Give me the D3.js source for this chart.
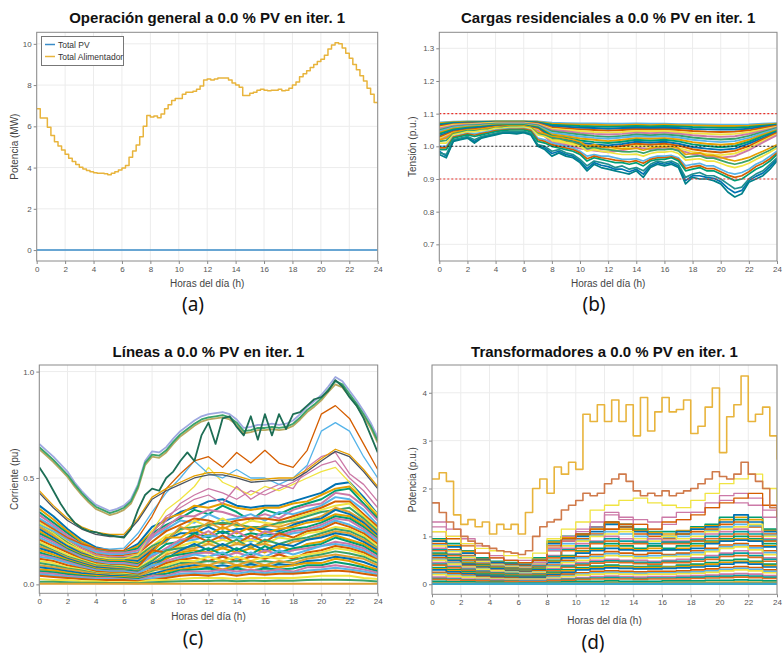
<!DOCTYPE html>
<meta charset="utf-8">
<style>
body { margin: 0; background: #fff; }
text { font-family: "Liberation Sans", Arial, sans-serif; }
.tick text { font-size: 8px; fill: #555; }
.tick line { stroke: #888; }
.grid line { stroke: #ececec; stroke-width: 1; }
.title { font-size: 15px; font-weight: bold; fill: #111; }
.alabel { font-size: 10px; fill: #444; }
.sub { font-family: "Noto Sans", "Open Sans", sans-serif; font-size: 19px; fill: #111; }
.legend text { font-size: 8.5px; fill: #333; }
</style>
<body>
<script src="https://d3js.org/d3.v7.min.js"></script>
<script>

// ---- shared axes ----
var ticksHoras = [0, 2, 4, 6, 8, 10, 12, 14, 16, 18, 20, 22, 24];
var ticksA = [0, 2, 4, 6, 8, 10];
var ticksB = [0.7, 0.8, 0.9, 1.0, 1.1, 1.2, 1.3];
var ticksC = [0.0, 0.5, 1.0];
var ticksD = [0, 1, 2, 3, 4];

// ---- (a) feeder totals, 15 min steps (last value = 24 h) ----
var totalPV = [0, 0];
var totalAlimentador = [
  6.85, 6.40, 6.40, 5.95, 5.55, 5.25, 5.05, 4.85, 4.65, 4.45, 4.30, 4.15,
  4.02, 3.93, 3.86, 3.80, 3.75, 3.72, 3.72, 3.70, 3.65, 3.72, 3.80, 3.88,
  3.98, 4.10, 4.50, 4.80, 5.10, 5.50, 6.00, 6.52, 6.45, 6.50, 6.42, 6.60,
  6.85, 7.05, 7.25, 7.35, 7.35, 7.55, 7.65, 7.65, 7.70, 7.80, 7.95, 8.25,
  8.30, 8.25, 8.30, 8.35, 8.35, 8.35, 8.25, 8.10, 8.00, 7.90, 7.50, 7.50,
  7.60, 7.65, 7.75, 7.80, 7.75, 7.72, 7.75, 7.75, 7.80, 7.72, 7.75, 7.85,
  8.00, 8.15, 8.40, 8.55, 8.70, 8.85, 9.00, 9.15, 9.25, 9.45, 9.75, 9.95,
  10.05, 10.00, 9.80, 9.55, 9.30, 9.00, 8.75, 8.45, 8.20, 7.85, 7.55, 7.15, 7.10
];

// ---- (b) residential voltages (p.u.) ----
var limitesTension = [0.9, 1.0, 1.1];
var tensionesHora = [
  [1.073,1.075,1.076,1.076,1.077,1.077,1.077,1.076,1.072,1.071,1.070,1.070,1.069,1.069,1.070,1.069,1.069,1.068,1.068,1.067,1.066,1.066,1.067,1.069,1.071],
  [1.071,1.074,1.075,1.075,1.076,1.076,1.076,1.075,1.069,1.068,1.066,1.066,1.065,1.065,1.066,1.065,1.066,1.065,1.064,1.063,1.062,1.062,1.063,1.066,1.069],
  [1.068,1.072,1.073,1.074,1.075,1.075,1.075,1.073,1.066,1.064,1.062,1.061,1.060,1.061,1.062,1.061,1.062,1.061,1.059,1.058,1.057,1.057,1.059,1.063,1.067],
  [1.065,1.070,1.072,1.073,1.074,1.074,1.074,1.072,1.062,1.060,1.057,1.056,1.054,1.056,1.057,1.056,1.057,1.056,1.053,1.052,1.051,1.051,1.054,1.060,1.065],
  [1.062,1.068,1.070,1.071,1.073,1.073,1.073,1.070,1.058,1.055,1.052,1.050,1.048,1.050,1.052,1.051,1.052,1.050,1.047,1.045,1.044,1.045,1.049,1.056,1.063],
  [1.058,1.066,1.068,1.070,1.072,1.072,1.072,1.068,1.054,1.050,1.047,1.044,1.042,1.044,1.047,1.046,1.047,1.044,1.040,1.038,1.036,1.038,1.043,1.052,1.060],
  [1.055,1.063,1.066,1.068,1.070,1.071,1.071,1.066,1.050,1.046,1.041,1.038,1.036,1.038,1.042,1.040,1.042,1.039,1.034,1.031,1.029,1.031,1.038,1.048,1.058],
  [1.050,1.060,1.064,1.066,1.069,1.069,1.069,1.064,1.046,1.041,1.036,1.032,1.029,1.032,1.036,1.034,1.036,1.033,1.027,1.023,1.021,1.023,1.032,1.044,1.056],
  [1.046,1.058,1.062,1.064,1.067,1.068,1.068,1.062,1.041,1.036,1.030,1.026,1.023,1.027,1.031,1.029,1.031,1.027,1.020,1.016,1.013,1.016,1.026,1.040,1.053],
  [1.042,1.055,1.060,1.062,1.066,1.066,1.066,1.060,1.036,1.031,1.024,1.020,1.016,1.020,1.025,1.023,1.025,1.021,1.013,1.008,1.005,1.008,1.020,1.036,1.050],
  [1.038,1.052,1.057,1.060,1.064,1.065,1.065,1.058,1.032,1.026,1.018,1.013,1.010,1.014,1.020,1.017,1.020,1.015,1.006,1.001,0.997,1.001,1.014,1.031,1.047],
  [1.033,1.048,1.054,1.058,1.062,1.063,1.063,1.055,1.027,1.020,1.011,1.006,1.003,1.007,1.014,1.011,1.014,1.008,0.998,0.993,0.989,0.993,1.008,1.026,1.044],
  [1.028,1.045,1.051,1.055,1.060,1.062,1.062,1.053,1.022,1.015,1.005,1.000,0.996,1.001,1.008,1.005,1.008,1.002,0.991,0.985,0.981,0.986,1.001,1.022,1.041],
  [1.023,1.042,1.048,1.052,1.058,1.060,1.060,1.050,1.017,1.009,0.999,0.993,0.989,0.994,1.002,0.998,1.002,0.995,0.983,0.977,0.973,0.978,0.994,1.017,1.037],
  [1.018,1.040,1.046,1.050,1.056,1.058,1.058,1.048,1.012,1.004,0.993,0.987,0.982,0.988,0.996,0.992,0.996,0.989,0.976,0.969,0.965,0.970,0.988,1.012,1.034]
];
var tensionesMediaHora = [
  [1.02,1.025,1.042,1.046,1.05,1.05,1.053,1.055,1.058,1.06,1.061,1.061,1.062,1.058,1.042,1.038,1.03,1.028,1.024,1.02,1.014,1.0,1.005,1.0,0.998,0.995,0.992,0.992,0.994,0.988,0.994,0.998,0.998,1.0,0.994,0.975,0.978,0.98,0.972,0.972,0.966,0.96,0.955,0.96,0.966,0.976,0.985,0.995,1.005],
  [1.015,1.018,1.038,1.043,1.048,1.047,1.05,1.052,1.056,1.058,1.06,1.06,1.06,1.056,1.038,1.034,1.025,1.022,1.018,1.014,1.007,0.993,0.997,0.992,0.99,0.987,0.984,0.983,0.985,0.979,0.986,0.99,0.99,0.992,0.986,0.966,0.969,0.971,0.964,0.964,0.957,0.95,0.945,0.95,0.957,0.968,0.978,0.988,1.0],
  [1.01,1.01,1.035,1.04,1.045,1.044,1.048,1.05,1.055,1.056,1.058,1.058,1.059,1.055,1.035,1.03,1.02,1.018,1.012,1.008,1.0,0.985,0.99,0.985,0.982,0.978,0.975,0.975,0.976,0.97,0.978,0.982,0.982,0.985,0.978,0.958,0.96,0.962,0.955,0.955,0.948,0.94,0.935,0.94,0.948,0.96,0.97,0.982,0.995],
  [1.0,1.0,1.03,1.035,1.04,1.038,1.042,1.046,1.05,1.052,1.054,1.054,1.055,1.05,1.025,1.02,1.01,1.005,1.0,0.995,0.985,0.97,0.975,0.97,0.97,0.965,0.96,0.96,0.962,0.955,0.965,0.97,0.97,0.972,0.965,0.94,0.945,0.948,0.94,0.94,0.93,0.92,0.915,0.92,0.93,0.945,0.955,0.97,0.985],
  [0.995,0.995,1.028,1.033,1.038,1.034,1.039,1.043,1.048,1.05,1.052,1.052,1.053,1.048,1.02,1.015,1.005,1.0,0.995,0.99,0.98,0.962,0.97,0.965,0.962,0.958,0.955,0.952,0.956,0.948,0.96,0.965,0.965,0.968,0.96,0.932,0.938,0.941,0.932,0.932,0.922,0.912,0.905,0.91,0.922,0.938,0.948,0.962,0.98],
  [0.99,0.99,1.025,1.03,1.035,1.03,1.035,1.04,1.045,1.048,1.05,1.05,1.05,1.045,1.015,1.01,1.0,0.995,0.99,0.985,0.975,0.955,0.965,0.96,0.955,0.95,0.95,0.945,0.95,0.94,0.955,0.96,0.96,0.965,0.955,0.925,0.93,0.935,0.925,0.925,0.915,0.905,0.895,0.9,0.915,0.93,0.94,0.955,0.975],
  [0.985,0.97,1.018,1.022,1.028,1.015,1.028,1.032,1.038,1.042,1.042,1.041,1.044,1.038,1.002,0.995,0.978,0.985,0.975,0.97,0.955,0.932,0.95,0.942,0.938,0.93,0.93,0.922,0.93,0.915,0.94,0.95,0.945,0.95,0.94,0.895,0.91,0.91,0.905,0.902,0.892,0.872,0.858,0.865,0.895,0.908,0.918,0.938,0.96],
  [0.98,0.975,1.02,1.025,1.03,1.02,1.03,1.035,1.04,1.044,1.045,1.044,1.046,1.04,1.005,1.0,0.985,0.99,0.98,0.975,0.96,0.94,0.955,0.95,0.945,0.935,0.94,0.93,0.935,0.925,0.945,0.955,0.95,0.955,0.945,0.905,0.915,0.92,0.91,0.91,0.90,0.885,0.87,0.875,0.90,0.915,0.925,0.945,0.965],
  [0.975,0.965,1.015,1.02,1.025,1.01,1.025,1.03,1.035,1.04,1.04,1.038,1.042,1.035,1.0,0.99,0.97,0.98,0.97,0.965,0.95,0.925,0.945,0.935,0.93,0.925,0.92,0.915,0.925,0.905,0.935,0.945,0.94,0.945,0.935,0.885,0.905,0.9,0.9,0.895,0.885,0.86,0.845,0.855,0.89,0.9,0.91,0.93,0.955]
];

// ---- (c) line currents (pu) ----
var corrientesMasa = [
  [0.37,0.32,0.26,0.21,0.175,0.16,0.155,0.19,0.27,0.30,0.34,0.36,0.39,0.40,0.37,0.36,0.37,0.37,0.39,0.41,0.43,0.47,0.48,0.41,0.33],
  [0.355,0.305,0.25,0.20,0.168,0.155,0.152,0.18,0.25,0.31,0.33,0.37,0.36,0.38,0.36,0.35,0.36,0.36,0.38,0.39,0.42,0.45,0.46,0.40,0.32],
  [0.34,0.29,0.24,0.19,0.16,0.15,0.15,0.17,0.24,0.28,0.31,0.35,0.33,0.37,0.34,0.30,0.35,0.33,0.36,0.38,0.40,0.44,0.45,0.38,0.31],
  [0.325,0.28,0.23,0.185,0.155,0.145,0.145,0.16,0.23,0.27,0.32,0.32,0.35,0.34,0.32,0.31,0.33,0.31,0.35,0.37,0.38,0.43,0.42,0.37,0.30],
  [0.31,0.27,0.22,0.18,0.15,0.14,0.14,0.15,0.22,0.26,0.30,0.29,0.33,0.30,0.31,0.33,0.30,0.34,0.33,0.35,0.37,0.41,0.40,0.35,0.28],
  [0.30,0.26,0.21,0.17,0.142,0.132,0.135,0.145,0.20,0.25,0.28,0.31,0.30,0.28,0.30,0.31,0.31,0.30,0.32,0.34,0.36,0.39,0.39,0.33,0.27],
  [0.29,0.25,0.20,0.16,0.135,0.125,0.13,0.14,0.18,0.23,0.25,0.30,0.27,0.31,0.27,0.30,0.29,0.28,0.31,0.33,0.35,0.37,0.38,0.32,0.26],
  [0.28,0.24,0.195,0.155,0.132,0.122,0.125,0.13,0.18,0.21,0.26,0.27,0.28,0.29,0.28,0.27,0.27,0.29,0.30,0.32,0.34,0.35,0.36,0.31,0.25],
  [0.27,0.23,0.19,0.15,0.13,0.12,0.12,0.12,0.17,0.20,0.27,0.25,0.29,0.26,0.29,0.25,0.28,0.27,0.29,0.30,0.32,0.36,0.34,0.30,0.24],
  [0.26,0.22,0.18,0.145,0.125,0.115,0.115,0.11,0.16,0.21,0.24,0.24,0.27,0.24,0.26,0.26,0.26,0.25,0.28,0.30,0.31,0.35,0.33,0.29,0.23],
  [0.25,0.21,0.17,0.14,0.12,0.11,0.11,0.10,0.15,0.22,0.22,0.26,0.23,0.27,0.24,0.27,0.24,0.26,0.27,0.29,0.30,0.33,0.32,0.28,0.22],
  [0.24,0.205,0.165,0.135,0.115,0.105,0.105,0.095,0.14,0.19,0.20,0.24,0.22,0.25,0.22,0.24,0.23,0.24,0.26,0.27,0.29,0.32,0.31,0.27,0.215],
  [0.23,0.20,0.16,0.13,0.11,0.10,0.10,0.09,0.13,0.17,0.21,0.22,0.25,0.21,0.25,0.21,0.25,0.23,0.25,0.26,0.28,0.31,0.30,0.26,0.21],
  [0.22,0.19,0.155,0.125,0.105,0.095,0.095,0.085,0.14,0.16,0.20,0.21,0.23,0.22,0.22,0.20,0.23,0.22,0.24,0.25,0.27,0.30,0.28,0.25,0.20],
  [0.21,0.18,0.15,0.12,0.10,0.09,0.09,0.08,0.16,0.15,0.19,0.23,0.20,0.23,0.19,0.23,0.20,0.24,0.22,0.25,0.26,0.29,0.27,0.24,0.19],
  [0.20,0.17,0.14,0.115,0.095,0.088,0.085,0.075,0.12,0.15,0.18,0.20,0.19,0.21,0.19,0.21,0.19,0.22,0.21,0.24,0.25,0.27,0.26,0.23,0.18],
  [0.19,0.16,0.13,0.11,0.09,0.085,0.08,0.07,0.11,0.16,0.17,0.18,0.21,0.18,0.21,0.17,0.21,0.19,0.21,0.22,0.24,0.26,0.25,0.22,0.17],
  [0.18,0.155,0.125,0.105,0.085,0.08,0.075,0.065,0.10,0.14,0.16,0.17,0.19,0.17,0.19,0.18,0.19,0.17,0.20,0.21,0.23,0.25,0.24,0.21,0.165],
  [0.17,0.15,0.12,0.10,0.08,0.075,0.07,0.06,0.10,0.12,0.16,0.19,0.16,0.19,0.16,0.19,0.16,0.19,0.18,0.21,0.22,0.24,0.23,0.20,0.16],
  [0.16,0.14,0.115,0.095,0.075,0.07,0.068,0.06,0.09,0.12,0.15,0.16,0.15,0.17,0.15,0.17,0.15,0.18,0.16,0.19,0.20,0.23,0.21,0.19,0.15],
  [0.15,0.13,0.11,0.09,0.07,0.065,0.065,0.06,0.08,0.13,0.14,0.15,0.17,0.14,0.17,0.14,0.18,0.15,0.17,0.18,0.19,0.22,0.20,0.18,0.14],
  [0.14,0.125,0.105,0.085,0.068,0.062,0.062,0.055,0.085,0.11,0.13,0.145,0.15,0.13,0.15,0.13,0.16,0.14,0.16,0.17,0.18,0.20,0.19,0.17,0.13],
  [0.13,0.12,0.10,0.08,0.065,0.06,0.06,0.05,0.09,0.10,0.12,0.14,0.13,0.15,0.12,0.15,0.13,0.16,0.14,0.16,0.18,0.19,0.18,0.16,0.12],
  [0.12,0.11,0.09,0.075,0.06,0.055,0.055,0.045,0.07,0.10,0.115,0.125,0.11,0.13,0.11,0.13,0.12,0.14,0.12,0.15,0.16,0.18,0.17,0.15,0.115],
  [0.11,0.10,0.08,0.07,0.055,0.05,0.05,0.04,0.06,0.09,0.11,0.11,0.13,0.11,0.13,0.11,0.13,0.12,0.13,0.14,0.15,0.17,0.16,0.14,0.11],
  [0.10,0.09,0.075,0.065,0.052,0.048,0.045,0.04,0.065,0.08,0.10,0.10,0.11,0.10,0.11,0.10,0.11,0.10,0.115,0.13,0.14,0.155,0.145,0.13,0.10],
  [0.09,0.08,0.07,0.06,0.05,0.045,0.04,0.035,0.07,0.07,0.09,0.10,0.09,0.11,0.09,0.11,0.09,0.11,0.10,0.12,0.13,0.14,0.13,0.12,0.09],
  [0.08,0.072,0.062,0.052,0.045,0.04,0.038,0.032,0.05,0.065,0.08,0.09,0.08,0.09,0.08,0.095,0.08,0.095,0.09,0.11,0.115,0.13,0.12,0.105,0.08],
  [0.07,0.065,0.055,0.045,0.04,0.035,0.035,0.03,0.04,0.06,0.07,0.08,0.09,0.07,0.09,0.08,0.09,0.08,0.09,0.10,0.10,0.12,0.11,0.09,0.07],
  [0.062,0.057,0.048,0.04,0.035,0.032,0.03,0.025,0.04,0.05,0.065,0.07,0.075,0.065,0.075,0.065,0.075,0.07,0.075,0.09,0.09,0.105,0.095,0.08,0.062],
  [0.055,0.05,0.04,0.035,0.03,0.03,0.025,0.02,0.04,0.04,0.06,0.06,0.06,0.07,0.06,0.07,0.06,0.07,0.06,0.08,0.08,0.09,0.08,0.07,0.055],
  [0.047,0.042,0.035,0.03,0.025,0.025,0.022,0.018,0.03,0.035,0.05,0.052,0.05,0.06,0.05,0.06,0.052,0.06,0.055,0.065,0.07,0.078,0.07,0.06,0.047],
  [0.04,0.035,0.03,0.025,0.02,0.02,0.02,0.015,0.02,0.03,0.04,0.045,0.04,0.05,0.04,0.05,0.045,0.05,0.05,0.055,0.06,0.065,0.06,0.05,0.04],
  [0.025,0.02,0.02,0.015,0.015,0.01,0.01,0.01,0.02,0.02,0.025,0.03,0.03,0.03,0.025,0.03,0.03,0.03,0.03,0.035,0.04,0.04,0.04,0.03,0.025],
  [0.012,0.012,0.01,0.008,0.008,0.006,0.006,0.005,0.01,0.012,0.015,0.016,0.016,0.018,0.015,0.017,0.016,0.018,0.017,0.02,0.022,0.022,0.02,0.018,0.014],
  [0.003, 0.003]
];
var corrientesMedias = [
  [0.30,0.26,0.21,0.17,0.14,0.13,0.13,0.14,0.22,0.30,0.38,0.42,0.45,0.43,0.40,0.44,0.42,0.45,0.48,0.52,0.56,0.58,0.50,0.44,0.36],
  [0.28,0.24,0.19,0.16,0.13,0.12,0.12,0.14,0.25,0.35,0.40,0.46,0.55,0.48,0.45,0.42,0.46,0.44,0.47,0.50,0.53,0.55,0.48,0.40,0.33],
  [0.33,0.28,0.23,0.19,0.16,0.15,0.15,0.16,0.24,0.32,0.36,0.40,0.42,0.38,0.46,0.40,0.44,0.47,0.45,0.55,0.60,0.62,0.52,0.47,0.39],
  [0.28,0.25,0.21,0.18,0.17,0.165,0.17,0.24,0.34,0.43,0.50,0.58,0.52,0.50,0.54,0.50,0.50,0.47,0.50,0.56,0.72,0.76,0.72,0.60,0.50],
  [0.30,0.26,0.22,0.19,0.17,0.16,0.16,0.22,0.32,0.45,0.52,0.58,0.60,0.55,0.62,0.57,0.63,0.57,0.55,0.63,0.80,0.84,0.78,0.66,0.54],
  [0.44,0.37,0.31,0.27,0.245,0.235,0.235,0.31,0.41,0.45,0.48,0.51,0.525,0.525,0.51,0.49,0.495,0.50,0.50,0.54,0.59,0.635,0.61,0.54,0.46],
  [0.43,0.36,0.30,0.26,0.235,0.225,0.225,0.30,0.40,0.44,0.47,0.50,0.515,0.515,0.50,0.48,0.485,0.49,0.49,0.53,0.58,0.625,0.60,0.53,0.45]
];
var coloresMedias = ["#CC79A7", "#F0E442", "#CC79A7", "#56B4E9", "#D55E00", "#E69F00", "#4b5560"];
var corrientesAltas = [
  [0.66,0.63,0.60,0.565,0.53,0.48,0.44,0.405,0.375,0.36,0.345,0.355,0.37,0.40,0.47,0.58,0.625,0.62,0.645,0.685,0.72,0.745,0.77,0.79,0.80,0.805,0.81,0.80,0.775,0.735,0.74,0.75,0.75,0.755,0.75,0.755,0.77,0.80,0.835,0.86,0.89,0.93,0.975,0.955,0.91,0.865,0.815,0.76,0.69],
  [0.635,0.605,0.575,0.54,0.505,0.46,0.42,0.385,0.355,0.34,0.325,0.335,0.35,0.38,0.45,0.56,0.60,0.595,0.62,0.66,0.695,0.72,0.745,0.765,0.775,0.78,0.785,0.775,0.75,0.71,0.715,0.725,0.725,0.73,0.725,0.73,0.745,0.775,0.81,0.835,0.865,0.905,0.94,0.925,0.885,0.84,0.79,0.735,0.665],
  [0.645,0.615,0.585,0.55,0.515,0.47,0.43,0.395,0.365,0.35,0.335,0.345,0.36,0.39,0.46,0.57,0.61,0.605,0.63,0.67,0.705,0.73,0.755,0.775,0.785,0.79,0.795,0.785,0.76,0.72,0.725,0.735,0.735,0.74,0.735,0.74,0.755,0.785,0.82,0.845,0.875,0.915,0.955,0.94,0.895,0.85,0.80,0.745,0.675],
  [0.55,0.50,0.44,0.38,0.33,0.29,0.265,0.25,0.245,0.235,0.23,0.225,0.22,0.26,0.35,0.42,0.45,0.44,0.50,0.53,0.58,0.62,0.58,0.70,0.76,0.66,0.78,0.79,0.74,0.70,0.79,0.68,0.80,0.70,0.80,0.73,0.80,0.81,0.84,0.87,0.88,0.91,0.96,0.93,0.88,0.84,0.78,0.70,0.62]
];
var coloresAltas = ["#9ea8e0", "#b8a860", "#3aa36a", "#1d6e55"];

// ---- (d) transformer loading (p.u.), step series ----
var trafosMasa = [
  [0.95,0.85,0.7,0.55,0.48,0.45,0.42,0.55,0.9,1.0,1.05,1.2,1.3,1.25,1.15,1.1,1.1,1.05,1.2,1.25,1.4,1.35,1.4,1.15,0.95],
  [0.92,0.8,0.68,0.53,0.46,0.43,0.41,0.52,0.88,0.98,1.02,1.15,1.28,1.15,1.12,1.08,1.05,1.12,1.18,1.22,1.35,1.4,1.35,1.12,0.92],
  [0.9,0.78,0.65,0.52,0.45,0.42,0.4,0.5,0.85,0.95,1.0,1.1,1.25,1.2,1.1,1.05,1.0,1.1,1.15,1.2,1.3,1.45,1.3,1.1,0.9],
  [0.85,0.72,0.6,0.5,0.42,0.4,0.38,0.45,0.75,0.9,0.95,1.05,1.15,1.25,1.05,1.0,0.95,1.05,1.1,1.15,1.25,1.3,1.2,1.05,0.85],
  [0.82,0.7,0.58,0.48,0.41,0.38,0.36,0.44,0.72,0.85,0.92,1.02,1.1,1.05,1.0,0.95,0.98,1.0,1.05,1.12,1.2,1.25,1.22,1.02,0.82],
  [0.8,0.68,0.56,0.47,0.4,0.37,0.35,0.42,0.7,0.8,0.9,1.0,1.05,1.1,0.95,0.9,1.0,0.95,1.0,1.1,1.15,1.2,1.25,1.0,0.8],
  [0.75,0.63,0.52,0.44,0.38,0.35,0.33,0.4,0.6,0.75,0.85,0.9,1.0,0.95,0.9,0.95,0.9,0.9,0.95,1.05,1.1,1.15,1.1,0.95,0.75],
  [0.72,0.62,0.51,0.43,0.37,0.34,0.32,0.38,0.58,0.72,0.8,0.88,0.95,0.9,0.88,0.85,0.88,0.88,0.92,1.0,1.05,1.1,1.05,0.92,0.72],
  [0.7,0.6,0.5,0.42,0.36,0.33,0.31,0.36,0.55,0.7,0.75,0.85,0.9,0.85,0.85,0.8,0.85,0.85,0.9,0.95,1.0,1.05,1.0,0.9,0.7],
  [0.65,0.55,0.46,0.4,0.34,0.31,0.29,0.33,0.5,0.6,0.7,0.75,0.85,0.8,0.75,0.8,0.75,0.8,0.85,0.9,0.95,1.0,0.95,0.85,0.65],
  [0.62,0.52,0.44,0.38,0.33,0.3,0.28,0.31,0.48,0.58,0.68,0.72,0.8,0.75,0.72,0.75,0.72,0.75,0.8,0.88,0.92,0.95,0.92,0.8,0.62],
  [0.6,0.5,0.42,0.36,0.32,0.29,0.27,0.3,0.45,0.55,0.65,0.7,0.75,0.72,0.7,0.7,0.72,0.72,0.75,0.85,0.9,0.92,0.9,0.78,0.6],
  [0.55,0.46,0.39,0.33,0.3,0.27,0.25,0.28,0.4,0.5,0.58,0.62,0.68,0.65,0.62,0.65,0.62,0.65,0.7,0.75,0.82,0.85,0.8,0.7,0.55],
  [0.52,0.44,0.37,0.32,0.29,0.26,0.24,0.26,0.38,0.47,0.55,0.58,0.64,0.6,0.58,0.6,0.6,0.62,0.66,0.72,0.78,0.82,0.76,0.66,0.52],
  [0.5,0.42,0.36,0.31,0.28,0.25,0.23,0.25,0.36,0.45,0.5,0.55,0.6,0.58,0.55,0.55,0.58,0.58,0.62,0.68,0.75,0.78,0.72,0.62,0.5],
  [0.45,0.38,0.33,0.28,0.25,0.23,0.21,0.22,0.32,0.4,0.45,0.5,0.52,0.5,0.5,0.48,0.5,0.52,0.55,0.6,0.65,0.7,0.65,0.55,0.45],
  [0.42,0.36,0.31,0.27,0.24,0.22,0.2,0.21,0.3,0.38,0.42,0.47,0.49,0.48,0.46,0.45,0.48,0.48,0.52,0.56,0.62,0.65,0.6,0.52,0.42],
  [0.4,0.34,0.29,0.25,0.22,0.2,0.19,0.2,0.28,0.35,0.4,0.44,0.46,0.45,0.43,0.42,0.45,0.45,0.48,0.52,0.58,0.6,0.56,0.48,0.4],
  [0.35,0.3,0.26,0.22,0.2,0.18,0.17,0.18,0.25,0.3,0.35,0.38,0.4,0.38,0.37,0.38,0.37,0.4,0.42,0.45,0.5,0.52,0.48,0.42,0.35],
  [0.32,0.28,0.24,0.2,0.18,0.16,0.16,0.16,0.22,0.28,0.32,0.35,0.37,0.36,0.35,0.35,0.36,0.37,0.39,0.42,0.46,0.48,0.45,0.39,0.32],
  [0.3,0.26,0.22,0.19,0.17,0.15,0.15,0.15,0.2,0.25,0.3,0.32,0.34,0.33,0.32,0.32,0.33,0.34,0.36,0.38,0.42,0.45,0.42,0.36,0.3],
  [0.25,0.22,0.19,0.16,0.14,0.13,0.12,0.12,0.17,0.21,0.24,0.27,0.28,0.27,0.26,0.27,0.27,0.28,0.3,0.32,0.35,0.37,0.35,0.3,0.25],
  [0.22,0.19,0.17,0.14,0.12,0.11,0.11,0.11,0.15,0.18,0.21,0.24,0.25,0.24,0.23,0.24,0.24,0.25,0.26,0.28,0.31,0.33,0.31,0.27,0.22],
  [0.2,0.17,0.15,0.13,0.11,0.1,0.1,0.1,0.13,0.16,0.19,0.21,0.22,0.21,0.2,0.21,0.21,0.22,0.23,0.25,0.28,0.3,0.28,0.24,0.2],
  [0.15,0.13,0.11,0.1,0.09,0.08,0.08,0.08,0.1,0.12,0.14,0.16,0.17,0.16,0.15,0.16,0.16,0.17,0.18,0.19,0.21,0.22,0.21,0.18,0.15],
  [0.12,0.11,0.09,0.08,0.07,0.07,0.06,0.06,0.08,0.1,0.12,0.13,0.14,0.13,0.12,0.13,0.13,0.14,0.15,0.16,0.17,0.18,0.17,0.15,0.12],
  [0.1,0.09,0.08,0.07,0.06,0.06,0.05,0.05,0.07,0.08,0.1,0.11,0.11,0.11,0.1,0.11,0.11,0.11,0.12,0.13,0.14,0.15,0.14,0.12,0.1],
  [0.06,0.05,0.05,0.04,0.04,0.03,0.03,0.03,0.04,0.05,0.06,0.06,0.07,0.06,0.06,0.06,0.07,0.07,0.07,0.08,0.08,0.09,0.08,0.07,0.06],
  [0.03,0.03,0.025,0.02,0.02,0.02,0.015,0.015,0.02,0.025,0.03,0.03,0.035,0.03,0.03,0.03,0.035,0.035,0.035,0.04,0.04,0.045,0.04,0.035,0.03]
];
var trafosMedios = [
  [1.3,1.15,0.95,0.8,0.6,0.5,0.5,0.5,0.75,1.0,1.15,1.3,1.5,1.4,1.35,1.3,1.4,1.5,1.5,1.7,1.85,1.9,1.8,1.55,1.3],
  [1.2,1.0,0.85,0.65,0.55,0.5,0.45,0.45,0.7,0.9,1.1,1.2,1.45,1.35,1.25,1.15,1.25,1.35,1.5,1.6,1.75,1.7,1.65,1.4,1.15],
  [1.1,0.95,0.8,0.65,0.55,0.5,0.45,0.5,0.8,0.95,1.05,1.15,1.3,1.2,1.25,1.15,1.3,1.35,1.45,1.6,1.7,1.8,1.9,1.65,1.4],
  [1.1,1.0,0.85,0.75,0.7,0.6,0.55,0.65,0.95,1.15,1.3,1.55,1.65,1.75,1.8,1.7,1.65,1.6,1.75,1.9,2.1,2.2,2.3,2.0,1.7]
];
var coloresTrafosMedios = ["#CC79A7", "#CC79A7", "#D55E00", "#F0E442"];
var trafoSegundo = [1.7,1.5,1.3,1.15,1.0,0.9,0.85,0.8,0.75,0.7,0.68,0.65,0.62,0.7,1.0,1.2,1.3,1.35,1.55,1.65,1.75,1.9,1.85,1.9,2.1,2.2,2.3,2.15,1.95,1.85,1.9,1.85,1.95,1.85,1.9,1.95,2.0,2.1,2.2,2.35,2.25,2.2,2.3,2.55,2.3,2.15,2.0,1.6,1.45];
var trafoMayor = [2.2,2.33,2.15,1.45,1.25,1.35,1.2,1.3,1.05,1.25,1.15,1.25,1.05,1.5,2.0,2.2,1.9,2.45,2.3,2.55,2.4,3.55,3.4,3.75,3.4,3.85,3.4,3.75,3.1,3.9,3.2,3.6,3.9,3.6,3.65,3.85,3.15,3.3,3.7,4.1,2.75,3.5,3.75,4.35,3.4,3.55,3.7,3.1,2.6];

// ---- drawing ----
var svg = d3.select("body").append("svg")
    .attr("width", 784)
    .attr("height", 654);

function panel(p) {
  var x = d3.scaleLinear().domain([0, 24]).range([p.x0, p.x1]);
  var y = d3.scaleLinear().domain(p.ydom).range([p.y1, p.y0]);
  var g = svg.append("g");

  // grid
  var grid = g.append("g").attr("class", "grid");
  grid.selectAll(".gx").data(ticksHoras).enter().append("line")
      .attr("x1", function(d) { return x(d); }).attr("x2", function(d) { return x(d); })
      .attr("y1", p.y0).attr("y2", p.y1);
  grid.selectAll(".gy").data(p.yticks).enter().append("line")
      .attr("x1", p.x0).attr("x2", p.x1)
      .attr("y1", function(d) { return y(d); }).attr("y2", function(d) { return y(d); });

  // clip
  svg.append("clipPath").attr("id", p.id)
    .append("rect").attr("x", p.x0).attr("y", p.y0)
      .attr("width", p.x1 - p.x0).attr("height", p.y1 - p.y0);
  var plot = g.append("g").attr("clip-path", "url(#" + p.id + ")");

  var ax = g.append("g").attr("transform", "translate(0," + p.y1 + ")")
      .call(d3.axisBottom(x).tickValues(ticksHoras).tickSize(3).tickPadding(2));
  ax.select(".domain").remove();
  var ay = g.append("g").attr("transform", "translate(" + p.x0 + ",0)")
      .call(d3.axisLeft(y).tickValues(p.yticks).tickFormat(p.fmt).tickSize(3).tickPadding(2));
  ay.select(".domain").remove();

  g.append("text").attr("class", "title")
      .attr("x", (p.x0 + p.x1) / 2).attr("y", p.titleY)
      .attr("text-anchor", "middle").text(p.title);
  g.append("text").attr("class", "alabel")
      .attr("x", (p.x0 + p.x1) / 2).attr("y", p.xlabY)
      .attr("text-anchor", "middle").text("Horas del día (h)");
  g.append("text").attr("class", "alabel")
      .attr("transform", "translate(" + p.ylabX + "," + ((p.y0 + p.y1) / 2) + ") rotate(-90)")
      .attr("text-anchor", "middle").text(p.ylab);
  g.append("text").attr("class", "sub")
      .attr("x", p.subX).attr("y", p.subY)
      .attr("text-anchor", "middle").text(p.sub);

  var line = d3.line()
      .x(function(d, i, a) { return x(i * 24 / (a.length - 1)); })
      .y(function(d) { return y(d); })
      .curve(p.step ? d3.curveStepAfter : d3.curveLinear);

  return { x: x, y: y, plot: plot, line: line, g: g, p: p };
}

function marco(pl) {
  var p = pl.p;
  pl.g.append("rect")
      .attr("x", p.x0).attr("y", p.y0)
      .attr("width", p.x1 - p.x0).attr("height", p.y1 - p.y0)
      .attr("fill", "none").attr("stroke", "#8a8a8a").attr("stroke-width", 1);
}

function dibujar(pl, series, colores, ancho) {
  pl.plot.append("g").selectAll("path").data(series).enter().append("path")
      .attr("d", function(d) { return pl.line(d); })
      .attr("fill", "none")
      .attr("stroke", function(d, i) { return colores[i % colores.length]; })
      .attr("stroke-width", ancho)
      .attr("stroke-linejoin", "round");
}

// (a)
var pa = panel({ id: "ca", x0: 36.7, x1: 377.7, y0: 32.3, y1: 261, ydom: [-0.53, 10.56],
  yticks: ticksA, fmt: d3.format("d"), step: true,
  title: "Operación general a 0.0 % PV en iter. 1", titleY: 23, xlabY: 287,
  ylab: "Potencia (MW)", ylabX: 18, sub: "(a)", subX: 193, subY: 311 });
dibujar(pa, [totalPV], ["#3a8cc8"], 1.5);
dibujar(pa, [totalAlimentador], ["#e8b43c"], 1.5);
marco(pa);

var leg = pa.g.append("g").attr("class", "legend");
leg.append("rect").attr("x", 41.5).attr("y", 36.5).attr("width", 82).attr("height", 29)
    .attr("fill", "#fff").attr("stroke", "#777").attr("stroke-width", 1);
var legItems = [["Total PV", "#3a8cc8"], ["Total Alimentador", "#e8b43c"]];
legItems.forEach(function(it, i) {
  leg.append("line").attr("x1", 45).attr("x2", 55)
      .attr("y1", 44.5 + i * 12).attr("y2", 44.5 + i * 12)
      .attr("stroke", it[1]).attr("stroke-width", 1.5);
  leg.append("text").attr("x", 58).attr("y", 47.5 + i * 12).text(it[0]);
});

// (b)
var pb = panel({ id: "cb", x0: 439.3, x1: 777, y0: 32.3, y1: 261, ydom: [0.649, 1.349],
  yticks: ticksB, fmt: d3.format(".1f"), step: false,
  title: "Cargas residenciales a 0.0 % PV en iter. 1", titleY: 23, xlabY: 287,
  ylab: "Tensión (p.u.)", ylabX: 416, sub: "(b)", subX: 594, subY: 311 });
dibujar(pb, tensionesHora, ["#56B4E9", "#E69F00", "#009E73", "#0072B2", "#D55E00", "#F0E442", "#CC79A7", "#3aa36a"], 1.9);
dibujar(pb, tensionesMediaHora, ["#E69F00", "#3aa36a", "#F0E442", "#56B4E9", "#D55E00", "#009E73", "#0072B2", "#1f8f8f", "#00808a"], 1.7);
pb.plot.append("g").selectAll("line").data(limitesTension).enter().append("line")
    .attr("x1", pb.x(0)).attr("x2", pb.x(24))
    .attr("y1", function(d) { return pb.y(d); }).attr("y2", function(d) { return pb.y(d); })
    .attr("stroke", function(d) { return d === 1.0 ? "#222" : "#e8302a"; })
    .attr("stroke-width", 1.1)
    .attr("stroke-dasharray", "2,2");
marco(pb);

// (c)
var pc = panel({ id: "cc", x0: 39.3, x1: 377.7, y0: 365, y1: 593.3, ydom: [-0.042, 1.031],
  yticks: ticksC, fmt: d3.format(".1f"), step: false,
  title: "Líneas a 0.0 % PV en iter. 1", titleY: 357, xlabY: 620,
  ylab: "Corriente (pu)", ylabX: 18, sub: "(c)", subX: 193, subY: 645 });
dibujar(pc, corrientesMasa, ["#0072B2", "#E69F00", "#009E73", "#CC79A7", "#56B4E9", "#D55E00", "#F0E442", "#3aa36a", "#e0a030"], 2);
dibujar(pc, corrientesMedias, coloresMedias, 1.3);
dibujar(pc, corrientesAltas, coloresAltas, 1.8);
marco(pc);

// (d)
var pd = panel({ id: "cd", x0: 432, x1: 777, y0: 365, y1: 594.3, ydom: [-0.21, 4.58],
  yticks: ticksD, fmt: d3.format("d"), step: true,
  title: "Transformadores a 0.0 % PV en iter. 1", titleY: 357, xlabY: 624,
  ylab: "Potencia (p.u.)", ylabX: 416, sub: "(d)", subX: 593, subY: 649 });
dibujar(pd, trafosMasa, ["#009E73", "#E69F00", "#0072B2", "#D55E00", "#56B4E9", "#F0E442", "#CC79A7", "#00a0a0", "#e07020"], 1.7);
dibujar(pd, trafosMedios, coloresTrafosMedios, 1.3);
dibujar(pd, [trafoSegundo], ["#d07a4a"], 1.6);
dibujar(pd, [trafoMayor], ["#e8b43c"], 1.6);
dibujar(pd, [[0.01, 0.01]], ["#3aa6c8"], 2.5);
marco(pd);

</script>
</body>
